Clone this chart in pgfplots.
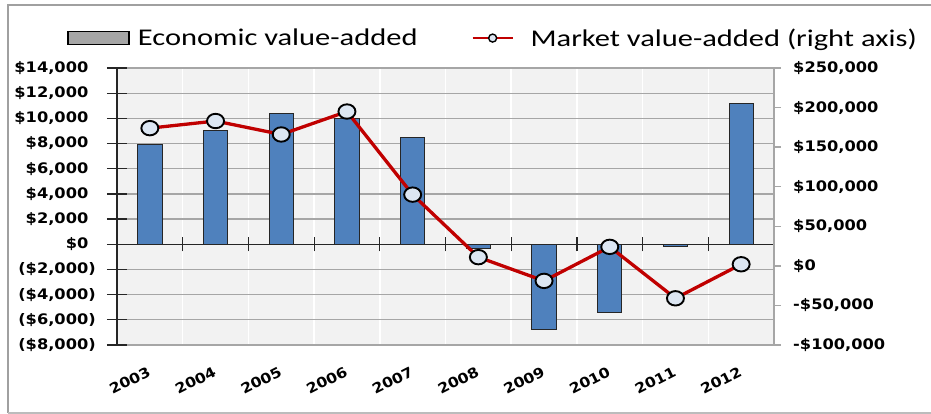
\documentclass[border=0pt]{standalone}
\usepackage{fontspec}
\usepackage{pgfplots}
\pgfplotsset{compat=1.18}
\setmainfont{Carlito}
\newfontfamily\legfont[FakeStretch=1.27]{Carlito}
\newfontfamily\tickfont[FakeStretch=1.12]{DejaVu Sans Bold}
\definecolor{barblue}{HTML}{4F81BD}
\definecolor{linered}{HTML}{C00000}
\definecolor{mkfill}{HTML}{DCE6F2}
\definecolor{plotbg}{HTML}{F2F2F2}
\definecolor{gridgray}{HTML}{A6A6A6}
\definecolor{leggray}{HTML}{A6A6A6}
\definecolor{framegray}{HTML}{A0A0A0}
\begin{document}
\begin{tikzpicture}
\useasboundingbox (0bp,0bp) rectangle (931bp,414bp);
\draw[framegray, line width=2bp] (8bp,1bp) -- (8bp,409bp) -- (940bp,409bp);
\draw[framegray!70, line width=1.5bp] (8bp,1bp) -- (940bp,1bp);
% left axis: bars
\begin{axis}[
  at={(117bp,69bp)}, anchor=south west,
  scale only axis, width=657bp, height=277bp,
  xmin=-0.5, xmax=9.5,
  ymin=-8000, ymax=14000,
  scaled y ticks=false,
  axis y line*=left, axis x line*=bottom,
  x axis line style={draw=none},
  y axis line style={draw=black!85, line width=1.3bp},
  axis background/.style={fill=plotbg},
  xtick={0,...,9},
  xticklabels={2003,2004,2005,2006,2007,2008,2009,2010,2011,2012},
  xtick style={draw=none},
  minor xtick={0.5,1.5,...,8.5},
  minor x tick style={draw=none},
  xminorgrids=true,
  minor x grid style={white, line width=1.5bp},
  xticklabel style={font=\tickfont\fontsize{14bp}{16bp}\selectfont, rotate=27, anchor=north east, inner sep=0pt, yshift=-17bp, xshift=-12bp},
  ytick={-8000,-6000,...,14000},
  yticklabels={{(\$8,000)},{(\$6,000)},{(\$4,000)},{(\$2,000)},{\$0\phantom{)}},{\$2,000\phantom{)}},{\$4,000\phantom{)}},{\$6,000\phantom{)}},{\$8,000\phantom{)}},{\$10,000\phantom{)}},{\$12,000\phantom{)}},{\$14,000\phantom{)}}},
  yticklabel style={font=\tickfont\fontsize{14.5bp}{16bp}\selectfont, anchor=east, inner sep=0pt, xshift=-11bp},
  ytick align=center,
  major tick length=20bp,
  ytick style={draw=black!85, line width=1.2bp},
  ymajorgrids=true,
  major y grid style={gridgray, line width=1.3bp},
  clip=false,
]
\addplot[ybar, bar width=0.37, fill=barblue, draw=black!85, line width=1bp] coordinates {
  (0,7900) (1,9000) (2,10400) (3,10000) (4,8500)
  (5,-300) (6,-6800) (7,-5400) (8,-200) (9,11200)
};
\draw[black!85, line width=1.4bp] (axis cs:-0.5,0) -- (axis cs:9.5,0);
\pgfplotsinvokeforeach{0.5,1.5,2.5,3.5,4.5,5.5,6.5,7.5,8.5}{
  \draw[black!85, line width=1.2bp] ([yshift=-7bp]axis cs:#1,0) -- ([yshift=7bp]axis cs:#1,0);
}
\end{axis}
% right axis: line
\begin{axis}[
  at={(117bp,69bp)}, anchor=south west,
  scale only axis, width=657bp, height=277bp,
  xmin=-0.5, xmax=9.5,
  ymin=-100000, ymax=250000,
  scaled y ticks=false,
  axis y line*=right, axis x line=none,
  y axis line style={draw=gridgray, line width=1.5bp},
  ytick={-100000,-50000,...,250000},
  yticklabels={{-\$100,000},{-\$50,000},{\$0},{\$50,000},{\$100,000},{\$150,000},{\$200,000},{\$250,000}},
  yticklabel style={font=\tickfont\fontsize{14.5bp}{16bp}\selectfont, anchor=west, inner sep=0pt, xshift=12bp},
  ytick align=outside,
  major tick length=7bp,
  ytick style={draw=gridgray, line width=1.3bp},
  clip=false,
  legend columns=2,
  legend style={at={(-0.0761,1.108)}, anchor=west, draw=none, fill=none,
    inner sep=0pt, font=\legfont\fontsize{24bp}{26bp}\selectfont,
    /tikz/every even column/.append style={column sep=52bp}},
]
\addlegendimage{legend image code/.code={\draw[fill=leggray, draw=black, line width=1.5bp] (0bp,-6.5bp) rectangle (61bp,6.5bp); \path[draw=none, fill=none] (0bp,0bp) -- (68bp,0bp);}}
\addlegendentry{Economic value-added}
\addplot[linered, line width=3.3bp, mark=*, mark size=7.6bp,
  mark options={fill=mkfill, draw=black, line width=1.9bp, xscale=1.12, yscale=0.95},
  legend image code/.code={\draw[linered, line width=2.2bp] (0bp,0bp) -- (40bp,0bp); \draw[fill=mkfill, draw=black, line width=1.4bp] (20bp,0bp) circle (4bp); \path[draw=none, fill=none] (0bp,0bp) -- (56bp,0bp);}]
  coordinates {
  (0,174000) (1,183000) (2,166000) (3,195000) (4,90000)
  (5,11000) (6,-19000) (7,24000) (8,-41000) (9,2000)
};
\addlegendentry{Market value-added (right axis)}
\end{axis}
\end{tikzpicture}
\end{document}
